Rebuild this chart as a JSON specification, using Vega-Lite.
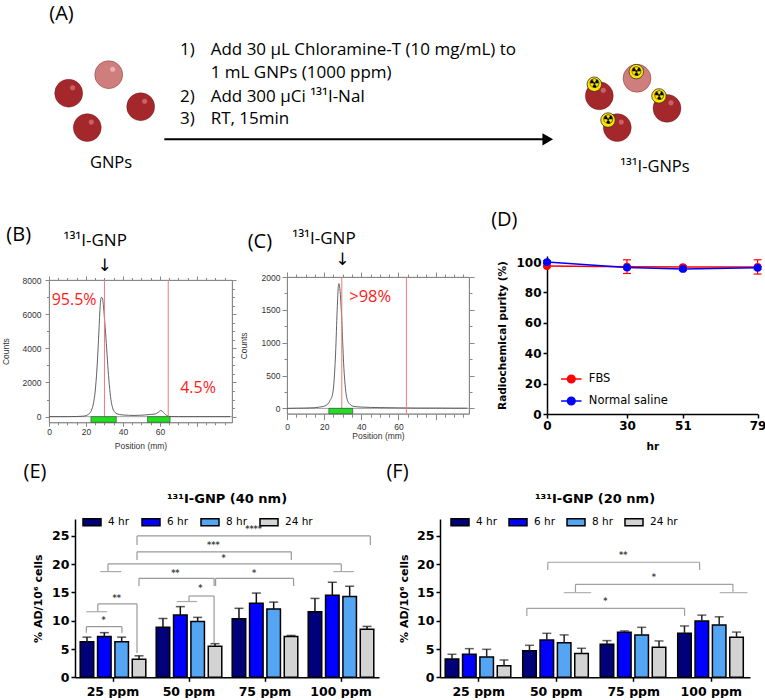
{
  "$schema": "https://vega.github.io/schema/vega-lite/v6.json",
  "padding": 0,
  "background": "white",
  "bounds": "flush",
  "spacing": 0,
  "resolve": {"scale": {"color": "independent", "fill": "independent", "stroke": "independent"}},
  "config": {"view": {"stroke": null}, "axis": {"grid": false, "labelOverlap": false}},
  "datasets": {
    "spheres": [
      {"kind": "gold", "x": 8.98, "y": 48.2},
      {"kind": "pale", "x": 14.21, "y": 58.5},
      {"kind": "gold", "x": 18.39, "y": 40.7},
      {"kind": "gold", "x": 11.41, "y": 29.1},
      {"kind": "gold", "x": 78.34, "y": 46.8},
      {"kind": "pale", "x": 83.27, "y": 56.5},
      {"kind": "gold", "x": 87.19, "y": 39.8},
      {"kind": "gold", "x": 80.69, "y": 29.1}
    ],
    "tags": [
      {"x": 77.69, "y": 53.2},
      {"x": 83.18, "y": 60.2},
      {"x": 86.14, "y": 46.7},
      {"x": 79.48, "y": 33.3}
    ],
    "steps": [
      {"num": "1)", "text": "Add 30 µL Chloramine-T (10 mg/mL) to", "y": 72.2},
      {"num": "", "text": "1 mL GNPs (1000 ppm)", "y": 59.3},
      {"num": "2)", "text": "Add 300 µCi ¹³¹I-NaI", "y": 46.3},
      {"num": "3)", "text": "RT, 15min", "y": 33.7}
    ],
    "tlcB": [
      {"pos": 0, "counts": 0}, {"pos": 5, "counts": 0}, {"pos": 10, "counts": 0}, {"pos": 12, "counts": 5},
      {"pos": 15, "counts": 10}, {"pos": 18, "counts": 25}, {"pos": 20, "counts": 55}, {"pos": 21, "counts": 120},
      {"pos": 22, "counts": 200}, {"pos": 23, "counts": 380}, {"pos": 24, "counts": 750}, {"pos": 25, "counts": 1500},
      {"pos": 26, "counts": 2900}, {"pos": 27, "counts": 5000}, {"pos": 27.7, "counts": 6500}, {"pos": 28.3, "counts": 6980},
      {"pos": 28.9, "counts": 6950}, {"pos": 29.5, "counts": 6400}, {"pos": 30.2, "counts": 5500}, {"pos": 31, "counts": 4300},
      {"pos": 31.8, "counts": 3000}, {"pos": 32.6, "counts": 1900}, {"pos": 33.5, "counts": 1000}, {"pos": 34.4, "counts": 520},
      {"pos": 35.3, "counts": 300}, {"pos": 36.3, "counts": 190}, {"pos": 38, "counts": 130}, {"pos": 40, "counts": 100},
      {"pos": 43, "counts": 80}, {"pos": 46, "counts": 70}, {"pos": 49, "counts": 80}, {"pos": 52, "counts": 100},
      {"pos": 55, "counts": 130}, {"pos": 57.5, "counts": 160}, {"pos": 59, "counts": 250}, {"pos": 60.5, "counts": 360},
      {"pos": 61.5, "counts": 300}, {"pos": 62.5, "counts": 180}, {"pos": 63.5, "counts": 80}, {"pos": 64.5, "counts": 30},
      {"pos": 66, "counts": 5}, {"pos": 70, "counts": 0}, {"pos": 80, "counts": 0}, {"pos": 90, "counts": 0}, {"pos": 98, "counts": 0}
    ],
    "tlcC": [
      {"pos": 0, "counts": 0}, {"pos": 5, "counts": 3}, {"pos": 10, "counts": 5}, {"pos": 15, "counts": 10},
      {"pos": 17.5, "counts": 20}, {"pos": 21, "counts": 45}, {"pos": 23, "counts": 110}, {"pos": 24.6, "counts": 224},
      {"pos": 25.3, "counts": 400}, {"pos": 25.9, "counts": 680}, {"pos": 26.4, "counts": 1000}, {"pos": 26.8, "counts": 1340},
      {"pos": 27.2, "counts": 1620}, {"pos": 27.5, "counts": 1800}, {"pos": 27.9, "counts": 1900}, {"pos": 28.3, "counts": 1860},
      {"pos": 28.6, "counts": 1780}, {"pos": 29.1, "counts": 1560}, {"pos": 29.5, "counts": 1340}, {"pos": 30, "counts": 1000},
      {"pos": 30.5, "counts": 680}, {"pos": 31.1, "counts": 420}, {"pos": 31.8, "counts": 224}, {"pos": 32.6, "counts": 120},
      {"pos": 33.6, "counts": 70}, {"pos": 36, "counts": 30}, {"pos": 40, "counts": 20}, {"pos": 50, "counts": 12},
      {"pos": 60, "counts": 8}, {"pos": 70, "counts": 5}, {"pos": 80, "counts": 5}, {"pos": 90, "counts": 3}, {"pos": 97, "counts": 3}
    ],
    "rcp": [
      {"series": "FBS", "hr": 0, "value": 97.4, "lo": 96.9, "hi": 97.9},
      {"series": "FBS", "hr": 30, "value": 97.0, "lo": 92.5, "hi": 101.5},
      {"series": "FBS", "hr": 51, "value": 96.7, "lo": 95.9, "hi": 97.5},
      {"series": "FBS", "hr": 79, "value": 96.8, "lo": 92.1, "hi": 101.5},
      {"series": "Normal saline", "hr": 0, "value": 100.0, "lo": 99.2, "hi": 100.8},
      {"series": "Normal saline", "hr": 30, "value": 96.4, "lo": 95.7, "hi": 97.1},
      {"series": "Normal saline", "hr": 51, "value": 95.5, "lo": 94.5, "hi": 96.5},
      {"series": "Normal saline", "hr": 79, "value": 96.2, "lo": 95.4, "hi": 97.0}
    ],
    "barsE": [
      {"ppm": "25 ppm", "hr": "4 hr", "value": 6.3, "hi": 7.1},
      {"ppm": "25 ppm", "hr": "6 hr", "value": 7.2, "hi": 7.9},
      {"ppm": "25 ppm", "hr": "8 hr", "value": 6.3, "hi": 7.1},
      {"ppm": "25 ppm", "hr": "24 hr", "value": 3.2, "hi": 3.8},
      {"ppm": "50 ppm", "hr": "4 hr", "value": 8.85, "hi": 10.4},
      {"ppm": "50 ppm", "hr": "6 hr", "value": 11.0, "hi": 12.5},
      {"ppm": "50 ppm", "hr": "8 hr", "value": 9.85, "hi": 10.6},
      {"ppm": "50 ppm", "hr": "24 hr", "value": 5.5, "hi": 5.95},
      {"ppm": "75 ppm", "hr": "4 hr", "value": 10.35, "hi": 12.2},
      {"ppm": "75 ppm", "hr": "6 hr", "value": 13.1, "hi": 14.9},
      {"ppm": "75 ppm", "hr": "8 hr", "value": 12.1, "hi": 13.3},
      {"ppm": "75 ppm", "hr": "24 hr", "value": 7.2, "hi": 7.4},
      {"ppm": "100 ppm", "hr": "4 hr", "value": 11.6, "hi": 13.95},
      {"ppm": "100 ppm", "hr": "6 hr", "value": 14.5, "hi": 16.8},
      {"ppm": "100 ppm", "hr": "8 hr", "value": 14.3, "hi": 16.1},
      {"ppm": "100 ppm", "hr": "24 hr", "value": 8.5, "hi": 9.0}
    ],
    "barsF": [
      {"ppm": "25 ppm", "hr": "4 hr", "value": 3.24, "hi": 4.07},
      {"ppm": "25 ppm", "hr": "6 hr", "value": 4.07, "hi": 5.07},
      {"ppm": "25 ppm", "hr": "8 hr", "value": 3.6, "hi": 4.95},
      {"ppm": "25 ppm", "hr": "24 hr", "value": 2.06, "hi": 3.07},
      {"ppm": "50 ppm", "hr": "4 hr", "value": 4.7, "hi": 5.66},
      {"ppm": "50 ppm", "hr": "6 hr", "value": 6.6, "hi": 7.78},
      {"ppm": "50 ppm", "hr": "8 hr", "value": 6.13, "hi": 7.5},
      {"ppm": "50 ppm", "hr": "24 hr", "value": 4.19, "hi": 5.13},
      {"ppm": "75 ppm", "hr": "4 hr", "value": 5.84, "hi": 6.49},
      {"ppm": "75 ppm", "hr": "6 hr", "value": 7.96, "hi": 8.2},
      {"ppm": "75 ppm", "hr": "8 hr", "value": 7.49, "hi": 8.84},
      {"ppm": "75 ppm", "hr": "24 hr", "value": 5.3, "hi": 6.43},
      {"ppm": "100 ppm", "hr": "4 hr", "value": 7.78, "hi": 9.08},
      {"ppm": "100 ppm", "hr": "6 hr", "value": 9.96, "hi": 11.0},
      {"ppm": "100 ppm", "hr": "8 hr", "value": 9.26, "hi": 10.7},
      {"ppm": "100 ppm", "hr": "24 hr", "value": 7.08, "hi": 8.0}
    ],
    "bracketsE": [
      {"x1": 0.649, "x2": 1.118, "y": 8.95, "yl": 7.9, "yr": 7.9},
      {"x1": 0.80, "x2": 1.316, "y": 12.97, "yl": 11.6, "yr": 4.3},
      {"x1": 2.0, "x2": 2.33, "y": 14.38, "yl": 13.4, "yr": 6.1},
      {"x1": 1.342, "x2": 2.33, "y": 17.5, "yl": 16.15, "yr": 16.15},
      {"x1": 2.35, "x2": 3.376, "y": 17.5, "yl": 16.15, "yr": 16.15},
      {"x1": 0.934, "x2": 4.004, "y": 20.05, "yl": 18.7, "yr": 18.7},
      {"x1": 1.316, "x2": 3.346, "y": 22.2, "yl": 20.75, "yr": 20.75},
      {"x1": 1.316, "x2": 4.386, "y": 25.0, "yl": 23.4, "yr": 23.4}
    ],
    "groupsE": [
      {"x1": 0.649, "x2": 0.92, "y": 11.6},
      {"x1": 1.84, "x2": 2.105, "y": 13.4},
      {"x1": 0.833, "x2": 1.11, "y": 18.7},
      {"x1": 3.90, "x2": 4.17, "y": 18.7}
    ],
    "starsE": [
      {"x": 0.877, "y": 10.3, "label": "*"},
      {"x": 1.05, "y": 14.26, "label": "**"},
      {"x": 2.15, "y": 15.9, "label": "*"},
      {"x": 1.82, "y": 18.7, "label": "**"},
      {"x": 2.855, "y": 18.7, "label": "*"},
      {"x": 2.455, "y": 21.35, "label": "*"},
      {"x": 2.32, "y": 23.6, "label": "***"},
      {"x": 2.85, "y": 26.4, "label": "****"}
    ],
    "bracketsF": [
      {"x1": 1.891, "x2": 3.85, "y": 20.35, "yl": 18.98, "yr": 18.98},
      {"x1": 2.248, "x2": 4.28, "y": 16.45, "yl": 14.97, "yr": 14.97},
      {"x1": 1.62, "x2": 3.656, "y": 12.2, "yl": 10.85, "yr": 10.85}
    ],
    "groupsF": [
      {"x1": 2.098, "x2": 2.45, "y": 14.97},
      {"x1": 4.109, "x2": 4.467, "y": 14.97}
    ],
    "starsF": [
      {"x": 2.864, "y": 21.8, "label": "**"},
      {"x": 3.26, "y": 17.98, "label": "*"},
      {"x": 2.632, "y": 13.68, "label": "*"}
    ]
  },
  "vconcat": [
    {
      "width": 765,
      "height": 180,
      "layer": [
        {
          "data": {"name": "spheres"},
          "mark": {"type": "point", "filled": true, "size": 780, "opacity": 1, "stroke": "#6b1515", "strokeWidth": 0.8, "strokeOpacity": 0.5},
          "encoding": {
            "x": {"field": "x", "type": "quantitative", "scale": {"domain": [0, 100], "nice": false, "zero": false}, "axis": null},
            "y": {"field": "y", "type": "quantitative", "scale": {"domain": [0, 100], "nice": false, "zero": false}, "axis": null},
            "color": {"field": "kind", "type": "nominal", "scale": {"domain": ["gold", "pale"], "range": ["#a3272b", "#cf7e7e"]}, "legend": null}
          }
        },
        {
          "data": {"name": "spheres"},
          "mark": {"type": "point", "filled": true, "size": 26, "opacity": 1, "xOffset": 4, "yOffset": -5.5},
          "encoding": {
            "x": {"field": "x", "type": "quantitative", "scale": {"domain": [0, 100], "nice": false, "zero": false}, "axis": null},
            "y": {"field": "y", "type": "quantitative", "scale": {"domain": [0, 100], "nice": false, "zero": false}, "axis": null},
            "fill": {"condition": {"test": "datum.kind == 'pale'", "value": "#e8b0b0"}, "value": "#c96262"}
          }
        },
        {
          "data": {"name": "tags"},
          "mark": {"type": "point", "filled": true, "size": 210, "opacity": 1, "fill": "#ffe600", "stroke": "#333333", "strokeWidth": 0.8},
          "encoding": {
            "x": {"field": "x", "type": "quantitative", "scale": {"domain": [0, 100], "nice": false, "zero": false}, "axis": null},
            "y": {"field": "y", "type": "quantitative", "scale": {"domain": [0, 100], "nice": false, "zero": false}, "axis": null}
          }
        },
        {
          "data": {"name": "tags"},
          "mark": {"type": "text", "text": "☢", "font": "DejaVu Sans", "fontSize": 13, "color": "black", "baseline": "middle", "align": "center"},
          "encoding": {
            "x": {"field": "x", "type": "quantitative", "scale": {"domain": [0, 100], "nice": false, "zero": false}, "axis": null},
            "y": {"field": "y", "type": "quantitative", "scale": {"domain": [0, 100], "nice": false, "zero": false}, "axis": null}
          }
        },
        {
          "data": {"name": "steps"},
          "mark": {"type": "text", "font": "Open Sans", "fontSize": 17, "color": "black", "align": "left", "baseline": "middle"},
          "encoding": {
            "x": {"datum": 23.53, "type": "quantitative", "scale": {"domain": [0, 100], "nice": false, "zero": false}, "axis": null},
            "y": {"field": "y", "type": "quantitative", "scale": {"domain": [0, 100], "nice": false, "zero": false}, "axis": null},
            "text": {"field": "num"}
          }
        },
        {
          "data": {"name": "steps"},
          "mark": {"type": "text", "font": "Open Sans", "fontSize": 17, "color": "black", "align": "left", "baseline": "middle"},
          "encoding": {
            "x": {"datum": 27.54, "type": "quantitative", "scale": {"domain": [0, 100], "nice": false, "zero": false}, "axis": null},
            "y": {"field": "y", "type": "quantitative", "scale": {"domain": [0, 100], "nice": false, "zero": false}, "axis": null},
            "text": {"field": "text"}
          }
        },
        {
          "data": {"values": [{}]},
          "mark": {"type": "text", "font": "Open Sans", "fontSize": 20, "color": "black", "baseline": "middle"},
          "encoding": {
            "x": {"datum": 8.04, "type": "quantitative", "scale": {"domain": [0, 100], "nice": false, "zero": false}, "axis": null},
            "y": {"datum": 92.2, "type": "quantitative", "scale": {"domain": [0, 100], "nice": false, "zero": false}, "axis": null},
            "text": {"value": "(A)"}
          }
        },
        {
          "data": {"values": [{}]},
          "mark": {"type": "text", "font": "Open Sans", "fontSize": 16.5, "color": "black", "baseline": "middle"},
          "encoding": {
            "x": {"datum": 14.51, "type": "quantitative", "scale": {"domain": [0, 100], "nice": false, "zero": false}, "axis": null},
            "y": {"datum": 9.4, "type": "quantitative", "scale": {"domain": [0, 100], "nice": false, "zero": false}, "axis": null},
            "text": {"value": "GNPs"}
          }
        },
        {
          "data": {"values": [{}]},
          "mark": {"type": "text", "font": "Open Sans", "fontSize": 16.5, "color": "black", "baseline": "middle"},
          "encoding": {
            "x": {"datum": 85.62, "type": "quantitative", "scale": {"domain": [0, 100], "nice": false, "zero": false}, "axis": null},
            "y": {"datum": 7.4, "type": "quantitative", "scale": {"domain": [0, 100], "nice": false, "zero": false}, "axis": null},
            "text": {"value": "¹³¹I-GNPs"}
          }
        },
        {
          "data": {"values": [{}]},
          "mark": {"type": "rule", "color": "black", "strokeWidth": 2},
          "encoding": {
            "x": {"datum": 21.48, "type": "quantitative", "scale": {"domain": [0, 100], "nice": false, "zero": false}, "axis": null},
            "x2": {"datum": 71.0},
            "y": {"datum": 22.6, "type": "quantitative", "scale": {"domain": [0, 100], "nice": false, "zero": false}, "axis": null}
          }
        },
        {
          "data": {"values": [{}]},
          "mark": {"type": "point", "shape": "triangle-right", "filled": true, "size": 150, "color": "black", "opacity": 1},
          "encoding": {
            "x": {"datum": 71.6, "type": "quantitative", "scale": {"domain": [0, 100], "nice": false, "zero": false}, "axis": null},
            "y": {"datum": 22.6, "type": "quantitative", "scale": {"domain": [0, 100], "nice": false, "zero": false}, "axis": null}
          }
        }
      ]
    },
    {"width": 10, "height": 76, "data": {"values": []}, "mark": "point", "encoding": {}},
    {
      "spacing": 0,
      "bounds": "flush",
      "resolve": {"scale": {"color": "independent", "fill": "independent", "stroke": "independent"}},
      "hconcat": [
        {"width": 49, "height": 10, "data": {"values": []}, "mark": "point", "encoding": {}},
        {
          "spacing": 0,
          "bounds": "flush",
          "vconcat": [
            {"width": 10, "height": 24, "data": {"values": []}, "mark": "point", "encoding": {}},
            {
              "width": 183,
              "height": 142.3,
              "view": {"stroke": "#888888", "strokeWidth": 0.8},
              "resolve": {"axis": {"x": "independent", "y": "independent"}},
              "layer": [
                {
                  "data": {"values": [{}]},
                  "mark": {"type": "rule", "color": "#8c8c8c", "strokeWidth": 0.8},
                  "encoding": {"y": {"datum": 0, "type": "quantitative", "axis": null}}
                },
                {
                  "data": {"name": "tlcB"},
                  "mark": {"type": "line", "color": "#505050", "strokeWidth": 0.9, "interpolate": "monotone"},
                  "encoding": {
                    "x": {"field": "pos", "type": "quantitative", "scale": {"domain": [0, 99], "nice": false, "zero": false},
                      "axis": {"orient": "bottom", "values": [0,5,10,15,20,25,30,35,40,45,50,55,60,65,70,75,80,85,90,95],
                        "labelExpr": "datum.value % 20 == 0 && datum.value <= 60 ? datum.label : ''",
                        "tickSize": {"condition": {"test": "datum.value % 20 == 0", "value": 4}, "value": 2.5},
                        "title": "Position (mm)", "titleFont": "Liberation Sans", "titleFontSize": 8.5, "titleFontWeight": "normal", "titleColor": "#333333", "titlePadding": 6,
                        "labelFont": "Liberation Sans", "labelFontSize": 8.5, "labelColor": "#333333", "labelPadding": 1, "labelOverlap": false, "labelFlush": false,
                        "domainColor": "#888888", "tickColor": "#888888"}},
                    "y": {"field": "counts", "type": "quantitative", "scale": {"domain": [-330, 8000], "nice": false, "zero": false},
                      "axis": {"orient": "left", "values": [0,1000,2000,3000,4000,5000,6000,7000,8000], "format": "d",
                        "labelExpr": "datum.value % 2000 == 0 ? datum.label : ''",
                        "tickSize": {"condition": {"test": "datum.value % 2000 == 0", "value": 4}, "value": 2.5},
                        "title": "Counts", "titleFont": "Liberation Sans", "titleFontSize": 8.5, "titleFontWeight": "normal", "titleColor": "#333333", "titlePadding": 12,
                        "labelFont": "Liberation Sans", "labelFontSize": 8.5, "labelColor": "#333333", "labelPadding": 4, "labelOverlap": false, "labelFlush": false,
                        "domainColor": "#888888", "tickColor": "#888888"}}
                  }
                },
                {
                  "data": {"values": [{"edge": 30}, {"edge": 64.5}]},
                  "mark": {"type": "rule", "color": "#f07a7a", "strokeWidth": 1},
                  "encoding": {"x": {"field": "edge", "type": "quantitative", "axis": null}}
                },
                {
                  "data": {"values": [{"start": 22.7, "end": 36.4}, {"start": 53.3, "end": 65.5}]},
                  "mark": {"type": "rect", "color": "#1fe21f", "stroke": "#3a3a3a", "strokeWidth": 0.6},
                  "encoding": {
                    "x": {"field": "start", "type": "quantitative",
                      "axis": {"orient": "top", "values": [0,5,10,15,20,25,30,35,40,45,50,55,60,65,70,75,80,85,90,95], "labels": false, "title": null,
                        "tickSize": {"condition": {"test": "datum.value % 20 == 0", "value": 4}, "value": 2.5}, "domainColor": "#888888", "tickColor": "#888888"}},
                    "x2": {"field": "end"},
                    "y": {"datum": 0, "type": "quantitative",
                      "axis": {"orient": "right", "values": [0,500,1000,1500,2000,2500,3000,3500,4000,4500,5000,5500,6000,6500,7000,7500,8000], "labels": false, "title": null,
                        "tickSize": {"condition": {"test": "datum.value % 2000 == 0", "value": 4}, "value": 2.5}, "domainColor": "#888888", "tickColor": "#888888"}},
                    "y2": {"datum": -330}
                  }
                },
                {
                  "data": {"values": [{}]},
                  "mark": {"type": "text", "font": "Open Sans", "fontSize": 16, "color": "#ff1a1a", "baseline": "middle"},
                  "encoding": {"x": {"datum": 13.6, "axis": null}, "y": {"datum": 6825, "axis": null}, "text": {"value": "95.5%"}}
                },
                {
                  "data": {"values": [{}]},
                  "mark": {"type": "text", "font": "Open Sans", "fontSize": 16, "color": "#ff1a1a", "baseline": "middle"},
                  "encoding": {"x": {"datum": 80.6, "axis": null}, "y": {"datum": 1680, "axis": null}, "text": {"value": "4.5%"}}
                },
                {
                  "data": {"values": [{}]},
                  "mark": {"type": "text", "font": "Open Sans", "fontSize": 20, "color": "black", "baseline": "middle"},
                  "encoding": {"x": {"datum": -16.4, "axis": null}, "y": {"datum": 10630, "axis": null}, "text": {"value": "(B)"}}
                },
                {
                  "data": {"values": [{}]},
                  "mark": {"type": "text", "font": "Open Sans", "fontSize": 17, "color": "black", "baseline": "middle"},
                  "encoding": {"x": {"datum": 25.0, "axis": null}, "y": {"datum": 10300, "axis": null}, "text": {"value": "¹³¹I-GNP"}}
                },
                {
                  "data": {"values": [{}]},
                  "mark": {"type": "text", "font": "DejaVu Sans", "fontSize": 17, "color": "black", "baseline": "middle"},
                  "encoding": {"x": {"datum": 30.1, "axis": null}, "y": {"datum": 8820, "axis": null}, "text": {"value": "↓"}}
                }
              ]
            }
          ]
        },
        {"width": 238, "height": 10, "data": {"values": []}, "mark": "point", "encoding": {}},
        {
          "spacing": 0,
          "bounds": "flush",
          "vconcat": [
            {"width": 10, "height": 21, "data": {"values": []}, "mark": "point", "encoding": {}},
            {
              "width": 182,
              "height": 136.7,
              "view": {"stroke": "#888888", "strokeWidth": 0.8},
              "resolve": {"axis": {"x": "independent", "y": "independent"}},
              "layer": [
                {
                  "data": {"values": [{}]},
                  "mark": {"type": "rule", "color": "#8c8c8c", "strokeWidth": 0.8},
                  "encoding": {"y": {"datum": 0, "type": "quantitative", "axis": null}}
                },
                {
                  "data": {"name": "tlcC"},
                  "mark": {"type": "line", "color": "#505050", "strokeWidth": 0.9, "interpolate": "monotone"},
                  "encoding": {
                    "x": {"field": "pos", "type": "quantitative", "scale": {"domain": [0, 98], "nice": false, "zero": false},
                      "axis": {"orient": "bottom", "values": [0,5,10,15,20,25,30,35,40,45,50,55,60,65,70,75,80,85,90,95],
                        "labelExpr": "datum.value % 20 == 0 && datum.value <= 60 ? datum.label : ''",
                        "tickSize": {"condition": {"test": "datum.value % 20 == 0", "value": 6}, "value": 3.5},
                        "title": "Position (mm)", "titleFont": "Liberation Sans", "titleFontSize": 8.5, "titleFontWeight": "normal", "titleColor": "#333333", "titlePadding": 0,
                        "labelFont": "Liberation Sans", "labelFontSize": 8.5, "labelColor": "#333333", "labelPadding": 3, "labelOverlap": false, "labelFlush": false,
                        "domainColor": "#888888", "tickColor": "#888888"}},
                    "y": {"field": "counts", "type": "quantitative", "scale": {"domain": [-81, 2000], "nice": false, "zero": false},
                      "axis": {"orient": "left", "values": [0,250,500,750,1000,1250,1500,1750,2000], "format": "d",
                        "labelExpr": "datum.value % 500 == 0 ? datum.label : ''",
                        "tickSize": {"condition": {"test": "datum.value % 500 == 0", "value": 5}, "value": 3},
                        "title": "Counts", "titleFont": "Liberation Sans", "titleFontSize": 8.5, "titleFontWeight": "normal", "titleColor": "#333333", "titlePadding": 13,
                        "labelFont": "Liberation Sans", "labelFontSize": 8.5, "labelColor": "#333333", "labelPadding": 2, "labelOverlap": false, "labelFlush": false,
                        "domainColor": "#888888", "tickColor": "#888888"}}
                  }
                },
                {
                  "data": {"values": [{"edge": 29.5}, {"edge": 64.3}]},
                  "mark": {"type": "rule", "color": "#f07a7a", "strokeWidth": 1},
                  "encoding": {"x": {"field": "edge", "type": "quantitative", "axis": null}}
                },
                {
                  "data": {"values": [{"start": 22.5, "end": 35.4}]},
                  "mark": {"type": "rect", "color": "#1fe21f", "stroke": "#3a3a3a", "strokeWidth": 0.6},
                  "encoding": {
                    "x": {"field": "start", "type": "quantitative",
                      "axis": {"orient": "top", "values": [0,5,10,15,20,25,30,35,40,45,50,55,60,65,70,75,80,85,90,95], "labels": false, "title": null,
                        "tickSize": {"condition": {"test": "datum.value % 20 == 0", "value": 5}, "value": 3}, "domainColor": "#888888", "tickColor": "#888888"}},
                    "x2": {"field": "end"},
                    "y": {"datum": 0, "type": "quantitative",
                      "axis": {"orient": "right", "values": [0,250,500,750,1000,1250,1500,1750,2000], "labels": false, "title": null,
                        "tickSize": {"condition": {"test": "datum.value % 500 == 0", "value": 5}, "value": 3}, "domainColor": "#888888", "tickColor": "#888888"}},
                    "y2": {"datum": -81}
                  }
                },
                {
                  "data": {"values": [{}]},
                  "mark": {"type": "text", "font": "Open Sans", "fontSize": 16.5, "color": "#ff1a1a", "baseline": "middle"},
                  "encoding": {"x": {"datum": 44.8, "axis": null}, "y": {"datum": 1690, "axis": null}, "text": {"value": ">98%"}}
                },
                {
                  "data": {"values": [{}]},
                  "mark": {"type": "text", "font": "Open Sans", "fontSize": 20, "color": "black", "baseline": "middle"},
                  "encoding": {"x": {"datum": -14.6, "axis": null}, "y": {"datum": 2528, "axis": null}, "text": {"value": "(C)"}}
                },
                {
                  "data": {"values": [{}]},
                  "mark": {"type": "text", "font": "Open Sans", "fontSize": 17, "color": "black", "baseline": "middle"},
                  "encoding": {"x": {"datum": 19.9, "axis": null}, "y": {"datum": 2580, "axis": null}, "text": {"value": "¹³¹I-GNP"}}
                },
                {
                  "data": {"values": [{}]},
                  "mark": {"type": "text", "font": "DejaVu Sans", "fontSize": 17, "color": "black", "baseline": "middle"},
                  "encoding": {"x": {"datum": 29.8, "axis": null}, "y": {"datum": 2260, "axis": null}, "text": {"value": "↓"}}
                }
              ]
            }
          ]
        },
        {"width": 259.7, "height": 10, "data": {"values": []}, "mark": "point", "encoding": {}},
        {
          "width": 210.6,
          "height": 158,
          "resolve": {"axis": {"x": "independent", "y": "independent"}},
          "layer": [
            {
              "data": {"name": "rcp"},
              "mark": {"type": "line", "strokeWidth": 1.5},
              "encoding": {
                "x": {"field": "hr", "type": "quantitative", "scale": {"domain": [0, 79], "nice": false, "zero": false},
                  "axis": {"values": [0, 30, 51, 79], "title": "hr", "titleFont": "DejaVu Sans", "titleFontWeight": "bold", "titleFontSize": 10.5, "titleColor": "black", "titlePadding": 10,
                    "labelFont": "DejaVu Sans", "labelFontWeight": "bold", "labelFontSize": 12, "labelColor": "black", "labelPadding": 2, "labelFlush": false, "labelOverlap": false,
                    "domainColor": "black", "domainWidth": 1.5, "tickColor": "black", "tickWidth": 1.5, "tickSize": 4}},
                "y": {"field": "value", "type": "quantitative", "scale": {"domain": [0, 104], "nice": false, "zero": false},
                  "axis": {"values": [0, 20, 40, 60, 80, 100], "title": "Radiochemical purity (%)", "titleFont": "DejaVu Sans", "titleFontWeight": "bold", "titleFontSize": 10.5, "titleColor": "black", "titlePadding": 8,
                    "labelFont": "DejaVu Sans", "labelFontWeight": "bold", "labelFontSize": 12, "labelColor": "black", "labelPadding": 2, "labelFlush": false, "labelOverlap": false,
                    "domainColor": "black", "domainWidth": 1.5, "tickColor": "black", "tickWidth": 1.5, "tickSize": 4}},
                "stroke": {"field": "series", "type": "nominal", "scale": {"domain": ["FBS", "Normal saline"], "range": ["#ff0000", "#0000ff"]},
                  "legend": {"title": null, "orient": "none", "legendX": 14.8, "legendY": 113.5,
                    "symbolType": "M-1.2,0H1.2M0.45,0A0.45,0.45,0,1,1,-0.45,0A0.45,0.45,0,1,1,0.45,0", "symbolSize": 289, "symbolStrokeWidth": 1.5,
                    "labelFont": "DejaVu Sans", "labelFontSize": 11.5, "labelColor": "black", "rowPadding": 5, "labelOffset": 8}}
              }
            },
            {
              "data": {"name": "rcp"},
              "mark": {"type": "rule", "strokeWidth": 1.2},
              "encoding": {
                "x": {"field": "hr", "type": "quantitative", "axis": null},
                "y": {"field": "lo", "type": "quantitative", "axis": null},
                "y2": {"field": "hi"},
                "color": {"field": "series", "type": "nominal", "scale": {"domain": ["FBS", "Normal saline"], "range": ["#ff0000", "#0000ff"]}, "legend": null}
              }
            },
            {
              "data": {"name": "rcp"},
              "mark": {"type": "tick", "orient": "horizontal", "size": 8, "thickness": 1.2, "opacity": 1},
              "encoding": {
                "x": {"field": "hr", "type": "quantitative", "axis": null},
                "y": {"field": "hi", "type": "quantitative", "axis": null},
                "color": {"field": "series", "type": "nominal", "scale": {"domain": ["FBS", "Normal saline"], "range": ["#ff0000", "#0000ff"]}, "legend": null}
              }
            },
            {
              "data": {"name": "rcp"},
              "mark": {"type": "tick", "orient": "horizontal", "size": 8, "thickness": 1.2, "opacity": 1},
              "encoding": {
                "x": {"field": "hr", "type": "quantitative", "axis": null},
                "y": {"field": "lo", "type": "quantitative", "axis": null},
                "color": {"field": "series", "type": "nominal", "scale": {"domain": ["FBS", "Normal saline"], "range": ["#ff0000", "#0000ff"]}, "legend": null}
              }
            },
            {
              "data": {"name": "rcp"},
              "mark": {"type": "point", "filled": true, "size": 60, "opacity": 1},
              "encoding": {
                "x": {"field": "hr", "type": "quantitative", "axis": null},
                "y": {"field": "value", "type": "quantitative", "axis": null},
                "fill": {"field": "series", "type": "nominal", "scale": {"domain": ["FBS", "Normal saline"], "range": ["#ff0000", "#0000ff"]},
                  "legend": {"title": null, "orient": "none", "legendX": 14.8, "legendY": 113.5,
                    "symbolType": "M-1.2,0H1.2M0.45,0A0.45,0.45,0,1,1,-0.45,0A0.45,0.45,0,1,1,0.45,0", "symbolSize": 289, "symbolStrokeWidth": 1.5,
                    "labelFont": "DejaVu Sans", "labelFontSize": 11.5, "labelColor": "black", "rowPadding": 5, "labelOffset": 8}}
              }
            },
            {
              "data": {"values": [{}]},
              "mark": {"type": "text", "font": "Open Sans", "fontSize": 20, "color": "black", "baseline": "middle"},
              "encoding": {"x": {"datum": -16.0, "axis": null}, "y": {"datum": 127.7, "axis": null}, "text": {"value": "(D)"}}
            }
          ]
        }
      ]
    },
    {"width": 10, "height": 263, "data": {"values": []}, "mark": "point", "encoding": {}},
    {
      "spacing": 0,
      "bounds": "flush",
      "resolve": {"scale": {"color": "independent", "fill": "independent", "stroke": "independent"}},
      "hconcat": [
        {"width": 75, "height": 10, "data": {"values": []}, "mark": "point", "encoding": {}},
        {
          "width": 304,
          "height": 158.3,
          "resolve": {"scale": {"x": "independent"}, "axis": {"x": "independent", "y": "independent"}},
          "layer": [
            {
              "data": {"name": "barsE"},
              "resolve": {"axis": {"x": "independent", "y": "independent"}},
              "layer": [
                {
                  "mark": {"type": "bar", "stroke": "black", "strokeWidth": 1.5},
                  "encoding": {
                    "x": {"field": "ppm", "type": "nominal", "sort": null, "scale": {"domain": ["25 ppm", "50 ppm", "75 ppm", "100 ppm"], "paddingInner": 0, "paddingOuter": 0},
                      "axis": {"title": null, "labelAngle": 0, "labelFont": "DejaVu Sans", "labelFontWeight": "bold", "labelFontSize": 12.5, "labelColor": "black", "labelPadding": 4, "labelOverlap": false,
                        "domainColor": "black", "domainWidth": 1.5, "tickColor": "black", "tickWidth": 1.5, "tickSize": 4}},
                    "xOffset": {"field": "hr", "type": "nominal", "sort": null, "scale": {"domain": ["4 hr", "6 hr", "8 hr", "24 hr"], "paddingInner": 0.22, "paddingOuter": 0.3}},
                    "y": {"field": "value", "type": "quantitative", "scale": {"domain": [0, 28], "nice": false},
                      "axis": {"values": [0, 5, 10, 15, 20, 25], "title": "% AD/10⁶ cells", "titleFont": "DejaVu Sans", "titleFontWeight": "bold", "titleFontSize": 11, "titleColor": "black", "titlePadding": 8,
                        "labelFont": "DejaVu Sans", "labelFontWeight": "bold", "labelFontSize": 12.5, "labelColor": "black", "labelPadding": 2, "labelOverlap": false,
                        "domainColor": "black", "domainWidth": 1.5, "tickColor": "black", "tickWidth": 1.5, "tickSize": 4}},
                    "color": {"field": "hr", "type": "nominal", "scale": {"domain": ["4 hr", "6 hr", "8 hr", "24 hr"], "range": ["#00007a", "#0000ff", "#55a5f5", "#d3d3d3"]},
                      "legend": {"title": null, "orient": "none", "legendX": 7, "legendY": -7, "direction": "horizontal",
                        "symbolType": "M-1,-0.38H1V0.38H-1Z", "symbolSize": 324, "symbolStrokeColor": "black", "symbolStrokeWidth": 1.5,
                        "labelFont": "DejaVu Sans", "labelFontSize": 10.5, "labelColor": "black", "columnPadding": 10, "labelOffset": 6}}
                  }
                },
                {
                  "mark": {"type": "rule", "color": "#111111", "strokeWidth": 1.5},
                  "encoding": {
                    "x": {"field": "ppm", "type": "nominal", "sort": null, "axis": null},
                    "xOffset": {"field": "hr", "type": "nominal", "sort": null},
                    "y": {"field": "value", "type": "quantitative", "axis": null},
                    "y2": {"field": "hi"}
                  }
                },
                {
                  "mark": {"type": "tick", "orient": "horizontal", "color": "#111111", "thickness": 1.5, "size": 9},
                  "encoding": {
                    "x": {"field": "ppm", "type": "nominal", "sort": null, "axis": null},
                    "xOffset": {"field": "hr", "type": "nominal", "sort": null},
                    "y": {"field": "hi", "type": "quantitative", "axis": null}
                  }
                }
              ]
            },
            {
              "layer": [
                {
                  "data": {"name": "bracketsE"},
                  "mark": {"type": "rule", "color": "#999999", "strokeWidth": 1.2},
                  "encoding": {
                    "x": {"field": "x1", "type": "quantitative", "scale": {"domain": [0.5, 4.5], "nice": false, "zero": false}, "axis": null},
                    "x2": {"field": "x2"},
                    "y": {"field": "y", "type": "quantitative", "axis": null}
                  }
                },
                {
                  "data": {"name": "bracketsE"},
                  "mark": {"type": "rule", "color": "#999999", "strokeWidth": 1.2},
                  "encoding": {
                    "x": {"field": "x1", "type": "quantitative", "axis": null},
                    "y": {"field": "y", "type": "quantitative", "axis": null},
                    "y2": {"field": "yl"}
                  }
                },
                {
                  "data": {"name": "bracketsE"},
                  "mark": {"type": "rule", "color": "#999999", "strokeWidth": 1.2},
                  "encoding": {
                    "x": {"field": "x2", "type": "quantitative", "axis": null},
                    "y": {"field": "y", "type": "quantitative", "axis": null},
                    "y2": {"field": "yr"}
                  }
                },
                {
                  "data": {"name": "groupsE"},
                  "mark": {"type": "rule", "color": "#aaaaaa", "strokeWidth": 1.2},
                  "encoding": {
                    "x": {"field": "x1", "type": "quantitative", "axis": null},
                    "x2": {"field": "x2"},
                    "y": {"field": "y", "type": "quantitative", "axis": null}
                  }
                },
                {
                  "data": {"name": "starsE"},
                  "mark": {"type": "text", "font": "DejaVu Sans", "fontSize": 8, "fontWeight": "bold", "color": "#444444", "baseline": "middle", "dy": 2},
                  "encoding": {
                    "x": {"field": "x", "type": "quantitative", "axis": null},
                    "y": {"field": "y", "type": "quantitative", "axis": null},
                    "text": {"field": "label"}
                  }
                },
                {
                  "data": {"values": [{}]},
                  "mark": {"type": "text", "font": "Open Sans", "fontSize": 20, "color": "black", "baseline": "middle"},
                  "encoding": {"x": {"datum": -0.026, "axis": null}, "y": {"datum": 36.3, "axis": null}, "text": {"value": "(E)"}}
                },
                {
                  "data": {"values": [{}]},
                  "mark": {"type": "text", "font": "DejaVu Sans", "fontSize": 13, "fontWeight": "bold", "color": "black", "baseline": "middle"},
                  "encoding": {"x": {"datum": 2.5, "axis": null}, "y": {"datum": 31.5, "axis": null}, "text": {"value": "¹³¹I-GNP (40 nm)"}}
                }
              ]
            }
          ]
        },
        {"width": 61, "height": 10, "data": {"values": []}, "mark": "point", "encoding": {}},
        {
          "width": 310,
          "height": 158.3,
          "resolve": {"scale": {"x": "independent"}, "axis": {"x": "independent", "y": "independent"}},
          "layer": [
            {
              "data": {"name": "barsF"},
              "resolve": {"axis": {"x": "independent", "y": "independent"}},
              "layer": [
                {
                  "mark": {"type": "bar", "stroke": "black", "strokeWidth": 1.5},
                  "encoding": {
                    "x": {"field": "ppm", "type": "nominal", "sort": null, "scale": {"domain": ["25 ppm", "50 ppm", "75 ppm", "100 ppm"], "paddingInner": 0, "paddingOuter": 0},
                      "axis": {"title": null, "labelAngle": 0, "labelFont": "DejaVu Sans", "labelFontWeight": "bold", "labelFontSize": 12.5, "labelColor": "black", "labelPadding": 4, "labelOverlap": false,
                        "domainColor": "black", "domainWidth": 1.5, "tickColor": "black", "tickWidth": 1.5, "tickSize": 4}},
                    "xOffset": {"field": "hr", "type": "nominal", "sort": null, "scale": {"domain": ["4 hr", "6 hr", "8 hr", "24 hr"], "paddingInner": 0.22, "paddingOuter": 0.3}},
                    "y": {"field": "value", "type": "quantitative", "scale": {"domain": [0, 28], "nice": false},
                      "axis": {"values": [0, 5, 10, 15, 20, 25], "title": "% AD/10⁶ cells", "titleFont": "DejaVu Sans", "titleFontWeight": "bold", "titleFontSize": 11, "titleColor": "black", "titlePadding": 7,
                        "labelFont": "DejaVu Sans", "labelFontWeight": "bold", "labelFontSize": 12.5, "labelColor": "black", "labelPadding": 2, "labelOverlap": false,
                        "domainColor": "black", "domainWidth": 1.5, "tickColor": "black", "tickWidth": 1.5, "tickSize": 4}},
                    "color": {"field": "hr", "type": "nominal", "scale": {"domain": ["4 hr", "6 hr", "8 hr", "24 hr"], "range": ["#00007a", "#0000ff", "#55a5f5", "#d3d3d3"]},
                      "legend": {"title": null, "orient": "none", "legendX": 10, "legendY": -7, "direction": "horizontal",
                        "symbolType": "M-1,-0.38H1V0.38H-1Z", "symbolSize": 324, "symbolStrokeColor": "black", "symbolStrokeWidth": 1.5,
                        "labelFont": "DejaVu Sans", "labelFontSize": 10.5, "labelColor": "black", "columnPadding": 9, "labelOffset": 6}}
                  }
                },
                {
                  "mark": {"type": "rule", "color": "#222222", "strokeWidth": 1.5},
                  "encoding": {
                    "x": {"field": "ppm", "type": "nominal", "sort": null, "axis": null},
                    "xOffset": {"field": "hr", "type": "nominal", "sort": null},
                    "y": {"field": "value", "type": "quantitative", "axis": null},
                    "y2": {"field": "hi"}
                  }
                },
                {
                  "mark": {"type": "tick", "orient": "horizontal", "color": "#222222", "thickness": 1.5, "size": 9},
                  "encoding": {
                    "x": {"field": "ppm", "type": "nominal", "sort": null, "axis": null},
                    "xOffset": {"field": "hr", "type": "nominal", "sort": null},
                    "y": {"field": "hi", "type": "quantitative", "axis": null}
                  }
                }
              ]
            },
            {
              "layer": [
                {
                  "data": {"name": "bracketsF"},
                  "mark": {"type": "rule", "color": "#a0a0a0", "strokeWidth": 1.2},
                  "encoding": {
                    "x": {"field": "x1", "type": "quantitative", "scale": {"domain": [0.5, 4.5], "nice": false, "zero": false}, "axis": null},
                    "x2": {"field": "x2"},
                    "y": {"field": "y", "type": "quantitative", "axis": null}
                  }
                },
                {
                  "data": {"name": "bracketsF"},
                  "mark": {"type": "rule", "color": "#a0a0a0", "strokeWidth": 1.2},
                  "encoding": {
                    "x": {"field": "x1", "type": "quantitative", "axis": null},
                    "y": {"field": "y", "type": "quantitative", "axis": null},
                    "y2": {"field": "yl"}
                  }
                },
                {
                  "data": {"name": "bracketsF"},
                  "mark": {"type": "rule", "color": "#a0a0a0", "strokeWidth": 1.2},
                  "encoding": {
                    "x": {"field": "x2", "type": "quantitative", "axis": null},
                    "y": {"field": "y", "type": "quantitative", "axis": null},
                    "y2": {"field": "yr"}
                  }
                },
                {
                  "data": {"name": "groupsF"},
                  "mark": {"type": "rule", "color": "#b0b0b0", "strokeWidth": 1.2},
                  "encoding": {
                    "x": {"field": "x1", "type": "quantitative", "axis": null},
                    "x2": {"field": "x2"},
                    "y": {"field": "y", "type": "quantitative", "axis": null}
                  }
                },
                {
                  "data": {"name": "starsF"},
                  "mark": {"type": "text", "font": "DejaVu Sans", "fontSize": 8, "fontWeight": "bold", "color": "#444444", "baseline": "middle", "dy": 2},
                  "encoding": {
                    "x": {"field": "x", "type": "quantitative", "axis": null},
                    "y": {"field": "y", "type": "quantitative", "axis": null},
                    "text": {"field": "label"}
                  }
                },
                {
                  "data": {"values": [{}]},
                  "mark": {"type": "text", "font": "Open Sans", "fontSize": 20, "color": "black", "baseline": "middle"},
                  "encoding": {"x": {"datum": -0.048, "axis": null}, "y": {"datum": 36.3, "axis": null}, "text": {"value": "(F)"}}
                },
                {
                  "data": {"values": [{}]},
                  "mark": {"type": "text", "font": "DejaVu Sans", "fontSize": 13, "fontWeight": "bold", "color": "black", "baseline": "middle"},
                  "encoding": {"x": {"datum": 2.5, "axis": null}, "y": {"datum": 31.5, "axis": null}, "text": {"value": "¹³¹I-GNP (20 nm)"}}
                }
              ]
            }
          ]
        }
      ]
    }
  ]
}
